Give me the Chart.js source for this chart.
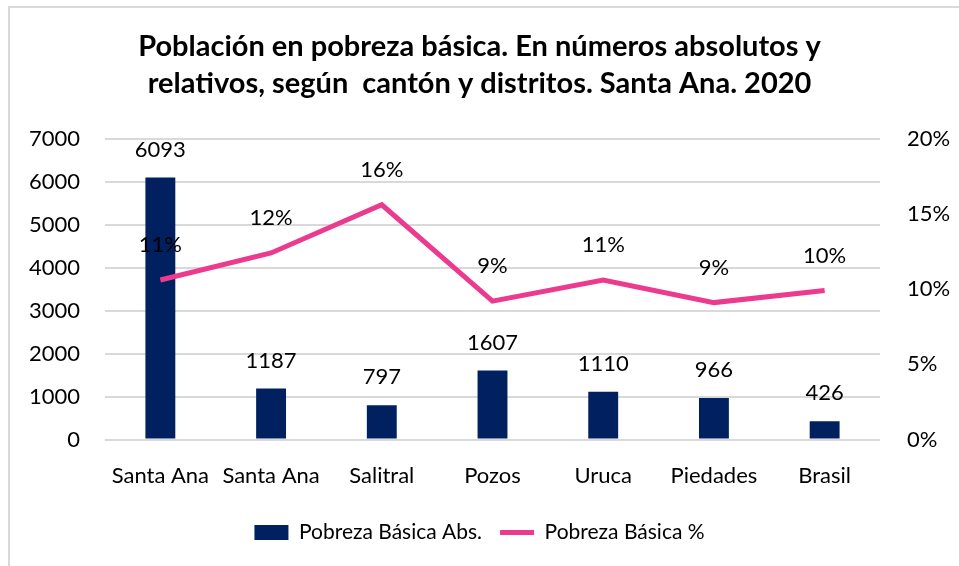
<!DOCTYPE html>
<html>
<head>
<meta charset="utf-8">
<script src="https://cdn.jsdelivr.net/npm/chart.js@4/dist/chart.umd.min.js"></script>
<style>
  html, body { margin: 0; padding: 0; background: #fff; }
  #wrap { width: 959px; height: 566px; }
</style>
</head>
<body>
<div id="wrap"><canvas id="povChart"></canvas></div>
<script>
const distritos = ['Santa Ana', 'Santa Ana', 'Salitral', 'Pozos', 'Uruca', 'Piedades', 'Brasil'];
const pobrezaAbs = [6093, 1187, 797, 1607, 1110, 966, 426];
const pobrezaPct = [0.106, 0.124, 0.156, 0.092, 0.106, 0.091, 0.099];
const leftTicks = [0, 1000, 2000, 3000, 4000, 5000, 6000, 7000];
const rightTicks = [0, 0.05, 0.10, 0.15, 0.20];

const FONT = "Lato, sans-serif";
const navy = '#002060';
const pink = '#EC3A8E';

// simple value labels above bars and points
const valueLabels = {
    id: 'valueLabels',
    afterDatasetsDraw(chart) {
        const c = chart.ctx;
        c.save();
        c.font = '22px ' + FONT;
        c.fillStyle = '#000';
        c.textAlign = 'center';
        c.textBaseline = 'middle';
        chart.data.datasets.forEach((ds, i) => {
            const meta = chart.getDatasetMeta(i);
            meta.data.forEach((el, j) => {
                const v = ds.data[j];
                if (ds.type === 'line') {
                    c.fillText(Math.round(v * 100) + '%', el.x, el.y - 35);
                } else {
                    c.fillText(String(v), el.x, el.y - 28);
                }
            });
        });
        c.restore();
    }
};

// light frame at top and left, like the pasted chart
const frame = {
    id: 'frame',
    beforeDraw(chart) {
        const c = chart.ctx;
        c.save();
        c.strokeStyle = '#D9D9D9';
        c.lineWidth = 2;
        c.beginPath();
        c.moveTo(9, chart.height);
        c.lineTo(9, 7);
        c.lineTo(chart.width, 7);
        c.stroke();
        c.restore();
    }
};

const ctx = document.getElementById('povChart').getContext('2d');

new Chart(ctx, {
    data: {
        labels: distritos,
        datasets: [
            {
                type: 'line',
                label: 'Pobreza Básica %',
                data: pobrezaPct,
                yAxisID: 'yPct',
                borderColor: pink,
                backgroundColor: pink,
                borderWidth: 5,
                pointRadius: 0,
                pointStyle: 'line',
                tension: 0,
                order: 0
            },
            {
                type: 'bar',
                label: 'Pobreza Básica Abs.',
                data: pobrezaAbs,
                yAxisID: 'yAbs',
                backgroundColor: navy,
                borderWidth: 0,
                barPercentage: 0.27,
                categoryPercentage: 1,
                pointStyle: 'rect',
                order: 1
            }
        ]
    },
    options: {
        responsive: true,
        maintainAspectRatio: false,
        animation: false,
        layout: { padding: { top: 29, bottom: 13, left: 0, right: 0 } },
        plugins: {
            title: {
                display: true,
                text: ['Población en pobreza básica. En números absolutos y',
                       'relativos, según  cantón y distritos. Santa Ana. 2020'],
                color: '#000',
                font: { family: FONT, size: 29, weight: 'bold', lineHeight: 1.25 },
                padding: { top: 0, bottom: 37 }
            },
            legend: {
                position: 'bottom',
                reverse: true,
                labels: {
                    color: '#000',
                    font: { family: FONT, size: 21 },
                    usePointStyle: true,
                    pointStyleWidth: 34,
                    boxHeight: 15,
                    padding: 18
                }
            },
            tooltip: { enabled: false }
        },
        scales: {
            x: {
                grid: { display: false },
                border: { display: false },
                ticks: { color: '#000', font: { family: FONT, size: 22 }, padding: 15, maxRotation: 0, autoSkip: false }
            },
            yAbs: {
                position: 'left',
                min: 0,
                max: 7000,
                afterBuildTicks(scale) { scale.ticks = leftTicks.map(v => ({ value: v })); },
                afterFit(scale) { scale.width = 105; },
                grid: { color: '#D9D9D9', lineWidth: 2, drawTicks: false },
                border: { display: false },
                ticks: {
                    color: '#000',
                    font: { family: FONT, size: 22 },
                    padding: 25,
                    callback: v => String(v)
                }
            },
            yPct: {
                position: 'right',
                min: 0,
                max: 0.2,
                afterBuildTicks(scale) { scale.ticks = rightTicks.map(v => ({ value: v })); },
                afterFit(scale) { scale.width = 79; },
                grid: { display: false, drawTicks: false },
                border: { display: false },
                ticks: {
                    color: '#000',
                    font: { family: FONT, size: 22 },
                    padding: 27,
                    callback: v => Math.round(v * 100) + '%'
                }
            }
        }
    },
    plugins: [frame, valueLabels]
});
</script>
</body>
</html>
